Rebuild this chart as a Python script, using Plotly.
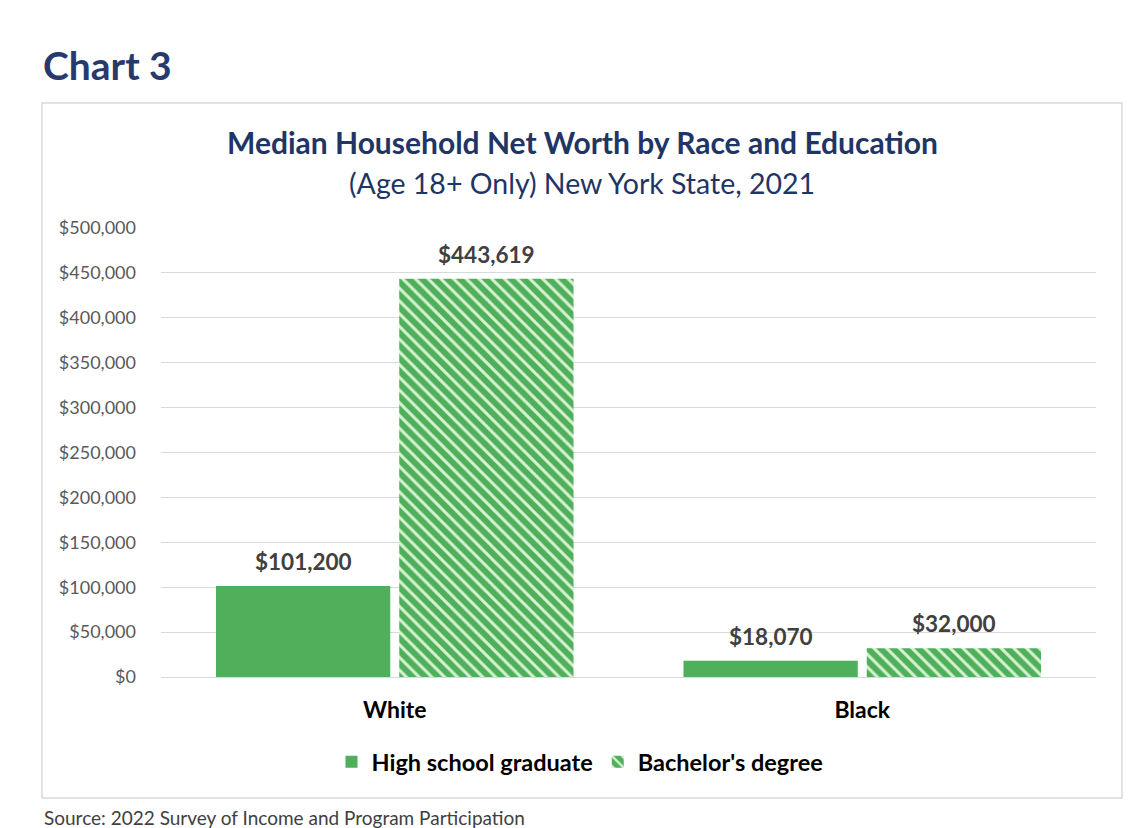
import plotly.graph_objects as go

categories = ["White", "Black"]
hs_values = [101200, 18070]
ba_values = [443619, 32000]
series_names = ["High school graduate", "Bachelor's degree"]
tick_vals = [0, 50000, 100000, 150000, 200000, 250000, 300000, 350000, 400000, 450000, 500000]
tick_text = ["$0", "$50,000", "$100,000", "$150,000", "$200,000", "$250,000",
             "$300,000", "$350,000", "$400,000", "$450,000", "$500,000"]

W, H = 1145, 828
OFF = 8  # page body margin
L, R, T, B = 161 - OFF, 1096 - OFF, 228 - OFF, 677 - OFF
GREEN = "#4FAF5B"
LIGHT = "#D6F2D0"
NAVY = "#1F3566"
FONT = "Lato"

def px(x):
    return (x - OFF - L) / (R - L)

def py(y):
    return (B - (y - OFF)) / (B - T)

fig = go.Figure()
fig.add_trace(go.Bar(
    x=categories, y=hs_values, name=series_names[0],
    marker=dict(color=GREEN, line=dict(width=0)),
))
fig.add_trace(go.Bar(
    x=categories, y=ba_values, name=series_names[1],
    marker=dict(color=GREEN, line=dict(width=0),
                pattern=dict(shape="\\", fgcolor=LIGHT, bgcolor=GREEN,
                             size=9, solidity=0.33, fillmode="replace")),
))

bargap = 0.216
bargroupgap = 0.049
slot = (1 - bargap) / 2
annotations = []
for i, cat in enumerate(categories):
    for j, vals in enumerate([hs_values, ba_values]):
        off = (j - 0.5) * slot
        annotations.append(dict(
            x=i + off, y=vals[i], xref="x", yref="y",
            text=f"${vals[i]:,}", showarrow=False, yanchor="bottom", yshift=9,
            font=dict(family=FONT, size=22.5, color="#404040", weight="bold"),
        ))

annotations += [
    dict(x=px(41), y=py(65), xref="paper", yref="paper", xanchor="left", yanchor="middle",
         text="<b>Chart 3</b>", showarrow=False,
         font=dict(family=FONT, size=39, color="#283A6B")),
    dict(x=px(582), y=py(142), xref="paper", yref="paper", xanchor="center", yanchor="middle",
         text="<b>Median Household Net Worth by Race and Education</b>", showarrow=False,
         font=dict(family=FONT, size=30, color=NAVY)),
    dict(x=px(582), y=py(183), xref="paper", yref="paper", xanchor="center", yanchor="middle",
         text="(Age 18+ Only) New York State, 2021", showarrow=False,
         font=dict(family=FONT, size=28.5, color=NAVY)),
    dict(x=px(42), y=py(817), xref="paper", yref="paper", xanchor="left", yanchor="middle",
         text="Source: 2022 Survey of Income and Program Participation", showarrow=False,
         font=dict(family=FONT, size=19, color="#404040")),
]

fig.update_layout(
    width=W, height=H,
    margin=dict(l=L, r=W - R, t=T, b=H - B, autoexpand=False),
    paper_bgcolor="white", plot_bgcolor="white",
    barmode="group", bargap=bargap, bargroupgap=bargroupgap,
    font=dict(family=FONT, color="#595959"),
    showlegend=True,
    legend=dict(orientation="h", x=px(580), xanchor="center", y=py(762), yanchor="middle",
                font=dict(family=FONT, size=23.5, color="#000000", weight="bold"),
                itemwidth=30, traceorder="normal", bgcolor="rgba(0,0,0,0)"),
    annotations=annotations,
    shapes=[dict(type="rect", xref="paper", yref="paper",
                 x0=px(42), x1=px(1122), y0=py(798), y1=py(103),
                 line=dict(color="#D9D9D9", width=1.5), fillcolor="rgba(0,0,0,0)", layer="below")],
)
fig.update_xaxes(
    showgrid=False, showline=False, zeroline=False, ticks="",
    tickfont=dict(family=FONT, size=23, color="#000000", weight="bold"),
    ticklabelstandoff=17,
)
fig.update_yaxes(
    range=[0, 500000], tickvals=tick_vals, ticktext=tick_text,
    showgrid=True, gridcolor="#D9D9D9", gridwidth=1,
    zeroline=True, zerolinecolor="#D9D9D9", zerolinewidth=1,
    showline=False, ticks="",
    tickfont=dict(family=FONT, size=18, color="#595959"),
    ticklabelstandoff=24,
)

fig.write_html("out.html")
